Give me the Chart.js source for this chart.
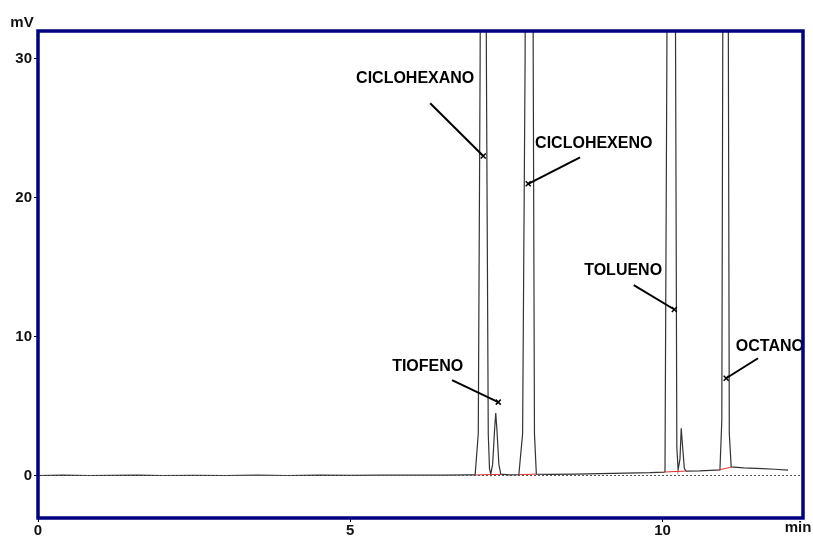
<!DOCTYPE html>
<html>
<head>
<meta charset="utf-8">
<script src="https://cdn.jsdelivr.net/npm/chart.js@4/dist/chart.umd.min.js"></script>
<style>
  body { margin: 0; background: #fff; }
  #wrap { width: 813px; height: 536px; }
</style>
</head>
<body>
<div id="wrap"><canvas id="chart" width="813" height="536"></canvas></div>
<script>
// retention time (min) and detector signal (mV)
const times = [0, 0.4, 0.8, 1.2, 1.6, 2.0, 2.5, 3.0, 3.5, 4.0, 4.5, 5.0, 5.5, 6.0, 6.5, 6.9,
  7.00, 7.05, 7.08, 7.13, 7.18, 7.21, 7.23, 7.25,
  7.28, 7.31, 7.33, 7.35, 7.38, 7.41,
  7.55, 7.70, 7.76, 7.80, 7.86, 7.93, 7.95, 7.98,
  8.2, 8.6, 9.0, 9.4, 9.8, 10.02,
  10.04, 10.07, 10.14, 10.21, 10.23, 10.25,
  10.28, 10.30, 10.32, 10.35, 10.38,
  10.6, 10.85, 10.92, 10.95, 10.97, 11.01, 11.05, 11.07, 11.10,
  11.3, 11.6, 11.8, 12.01];
const signal = [0, 0.02, 0, 0.01, 0.03, 0, 0.01, 0, 0.02, 0, 0.03, 0.01, 0.02, 0.03, 0.02, 0.04,
  0.05, 3, 30, 120, 30, 3, 0.5, 0.1,
  0.8, 3.2, 4.5, 3.2, 0.8, 0.1,
  0.05, 0.06, 3, 30, 120, 30, 3, 0.1,
  0.08, 0.1, 0.14, 0.17, 0.2, 0.24,
  0.26, 30, 120, 30, 2, 0.4,
  1.2, 3.4, 2.2, 0.5, 0.32,
  0.33, 0.38, 0.4, 4, 40, 120, 40, 3, 0.62,
  0.55, 0.5, 0.45, 0.38];

// red integration baselines under the peaks (null = gap)
const baseX = [7.00, 7.41, null, 7.70, 7.98, null, 10.03, 10.38, null, 10.90, 11.10];
const baseY = [0.04, 0.08, null, 0.06, 0.1, null, 0.25, 0.32, null, 0.4, 0.6];

const xTicks = [0, 5, 10];
const yTicks = [0, 10, 20, 30];

// peak labels: text centre and arrow tail -> head, in data units
const peakNames = ['CICLOHEXANO', 'CICLOHEXENO', 'TIOFENO', 'TOLUENO', 'OCTANO'];
const labelX = [6.04, 8.90, 6.24, 9.37, 11.72];
const labelY = [28.6, 23.9, 7.86, 14.75, 9.3];
const tailX = [6.28, 8.68, 6.63, 9.54, 11.53];
const tailY = [26.8, 22.9, 6.86, 13.7, 8.44];
const headX = [7.13, 7.85, 7.37, 10.19, 11.02];
const headY = [23.0, 21.0, 5.28, 11.95, 7.0];

const FONT = 'Liberation Sans, Arial, sans-serif';

const trace = times.map((t, i) => ({ x: t, y: signal[i] }));
const baseline = baseX.map((t, i) => ({ x: t, y: baseY[i] }));
const zeroLine = [{ x: 0, y: 0 }, { x: 12.25, y: 0 }];

const overlay = {
  id: 'overlay',
  afterDatasetsDraw(chart) {
    const { ctx, chartArea: a, scales: { x, y } } = chart;
    ctx.save();

    // arrows and names
    ctx.strokeStyle = '#000';
    ctx.fillStyle = '#000';
    ctx.font = 'bold 16px ' + FONT;
    ctx.textAlign = 'center';
    ctx.textBaseline = 'middle';
    peakNames.forEach((name, i) => {
      ctx.fillText(name, x.getPixelForValue(labelX[i]), y.getPixelForValue(labelY[i]));
      const hx = x.getPixelForValue(headX[i]), hy = y.getPixelForValue(headY[i]);
      ctx.lineWidth = 2;
      ctx.beginPath();
      ctx.moveTo(x.getPixelForValue(tailX[i]), y.getPixelForValue(tailY[i]));
      ctx.lineTo(hx, hy);
      ctx.stroke();
      ctx.lineWidth = 1.5;
      ctx.beginPath();
      ctx.moveTo(hx - 2.5, hy - 2.5); ctx.lineTo(hx + 2.5, hy + 2.5);
      ctx.moveTo(hx + 2.5, hy - 2.5); ctx.lineTo(hx - 2.5, hy + 2.5);
      ctx.stroke();
    });

    // frame
    ctx.strokeStyle = '#000080';
    ctx.lineWidth = 3.5;
    ctx.strokeRect(a.left, a.top, a.right - a.left, a.bottom - a.top);

    // axis units
    ctx.font = 'bold 15px ' + FONT;
    ctx.fillStyle = '#111';
    ctx.fillText('mV', 22, 23);
    ctx.fillText('min', 798, 528);
    ctx.restore();
  }
};

new Chart(document.getElementById('chart'), {
  type: 'line',
  data: {
    datasets: [
      { data: zeroLine, borderColor: '#555', borderWidth: 1, borderDash: [2, 2], pointRadius: 0 },
      { data: baseline, borderColor: '#e03030', borderWidth: 1, pointRadius: 0, spanGaps: false },
      { data: trace, borderColor: '#333', borderWidth: 1.2, pointRadius: 0, tension: 0 }
    ]
  },
  options: {
    responsive: false,
    animation: false,
    layout: { padding: { top: 31, right: 10, left: 0, bottom: 0 } },
    plugins: { legend: { display: false }, tooltip: { enabled: false } },
    scales: {
      x: {
        type: 'linear', min: 0, max: 12.25,
        afterBuildTicks: s => { s.ticks = xTicks.map(v => ({ value: v })); },
        afterFit: s => { s.height = 18; },
        grid: { drawOnChartArea: false, tickLength: 4, color: '#000' },
        border: { display: false },
        ticks: { color: '#111', padding: 0, maxRotation: 0, font: { family: FONT, size: 15, weight: 'bold' } }
      },
      y: {
        type: 'linear', min: -3.06, max: 32,
        afterBuildTicks: s => { s.ticks = yTicks.map(v => ({ value: v })); },
        afterFit: s => { s.width = 38; },
        grid: { drawOnChartArea: false, tickLength: 4, color: '#000' },
        border: { display: false },
        ticks: { color: '#111', padding: 2, font: { family: FONT, size: 15, weight: 'bold' } }
      }
    }
  },
  plugins: [overlay]
});
</script>
</body>
</html>
